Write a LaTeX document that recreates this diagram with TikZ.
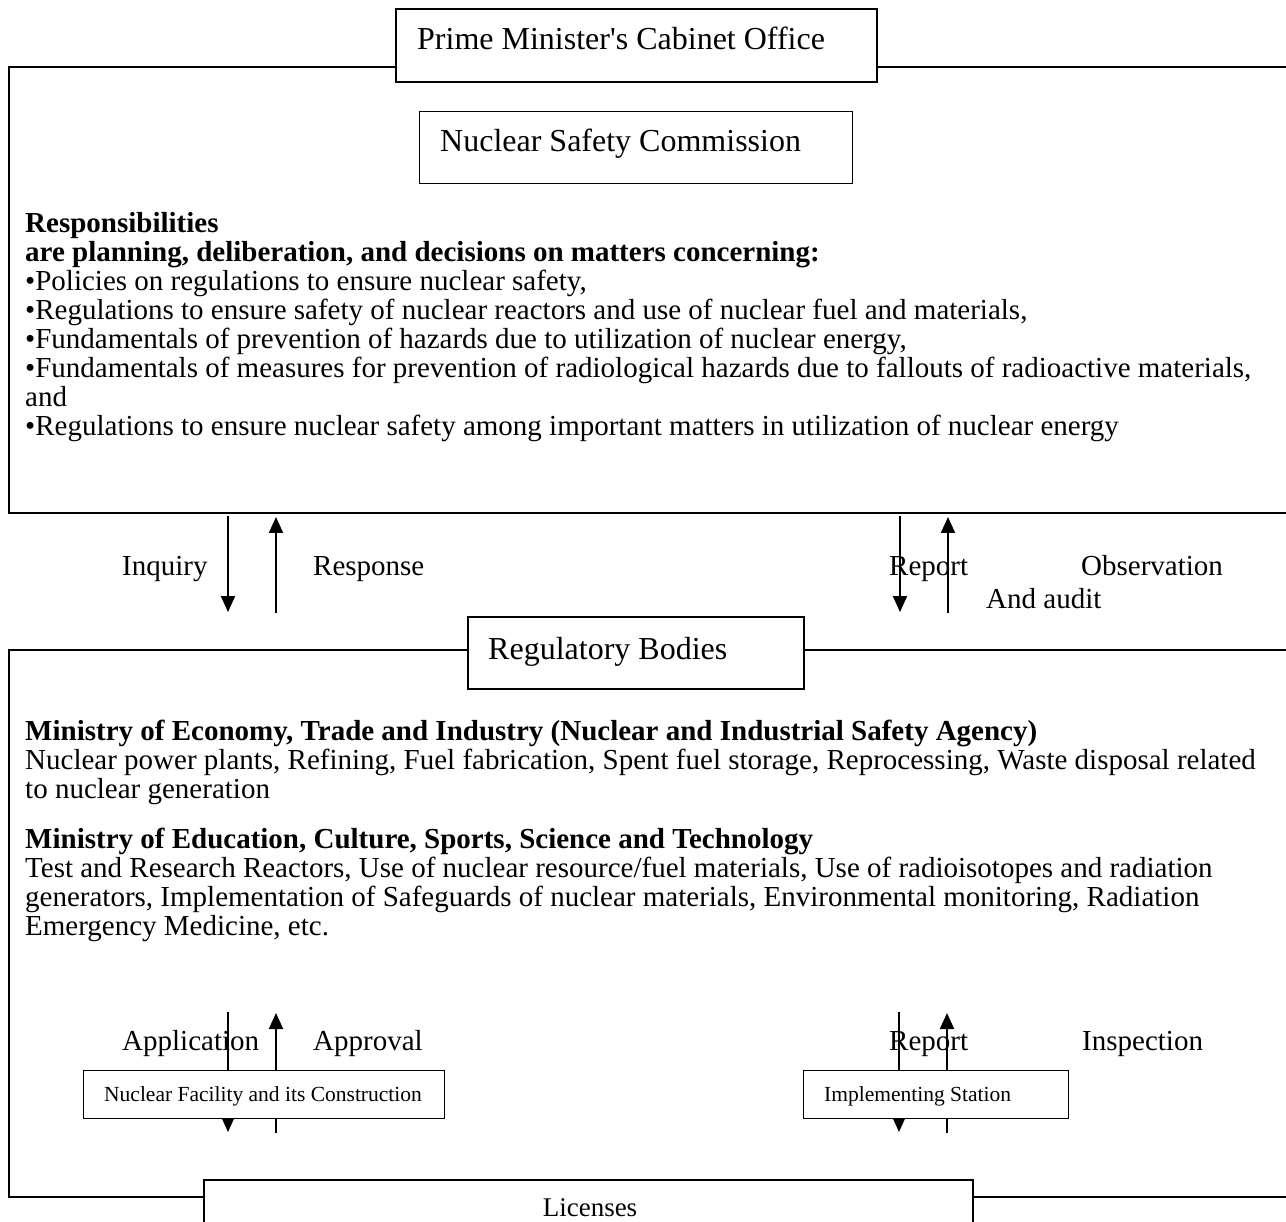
\documentclass[tikz,border=0pt]{standalone}
\usepackage{fontspec}
\setmainfont{Liberation Serif}[Ligatures=TeXOff]
\usetikzlibrary{arrows.meta}
\begin{document}
\begin{tikzpicture}[x=1pt,y=-1pt,
  frame/.style={line width=2.2pt},
  boxw/.style={draw, line width=1.6pt, fill=white, inner sep=0pt, anchor=north west},
  body/.style={font=\fontsize{29}{29}\selectfont, inner sep=0pt, anchor=base west},
  bodyb/.style={font=\fontsize{29}{29}\selectfont\bfseries, inner sep=0pt, anchor=base west},
  head/.style={font=\fontsize{32}{34}\selectfont, inner sep=0pt, anchor=base west},
  small/.style={font=\fontsize{21.5}{24}\selectfont, inner sep=0pt, anchor=base west},
  arr/.style={line width=2pt, -{Triangle[width=14pt,length=16pt]}}]
\useasboundingbox (0,0) rectangle (1286,1222);
\clip (0,0) rectangle (1286,1222);

% ---------- upper frame ----------
\coordinate (f1tl) at (9,67);
\coordinate (f1bl) at (9,513);
\coordinate (f1br) at (1300,513);
\coordinate (f1tr) at (1300,67);
\node[boxw, minimum width=481pt, minimum height=73pt] (pm) at (395,8) {};
\draw[frame] (pm.west |- f1tl) -- (f1tl) -- (f1bl) -- (f1br);
\draw[frame] (pm.east |- f1tr) -- (f1tr);
\node[head] (pmt) at (417,50) {Prime Minister's Cabinet Office};

\node[boxw, line width=1.4pt, minimum width=433pt, minimum height=72pt] (nsc) at (419,111) {};
\node[head] (nsct) at (440,152) {Nuclear Safety Commission};

\node[bodyb] (r1) at (25,233) {Responsibilities};
\node[bodyb] (r2) at (25,262) {are planning, deliberation, and decisions on matters concerning:};
\node[body] (r3) at (25,291) {•Policies on regulations to ensure nuclear safety,};
\node[body] (r4) at (25,320) {•Regulations to ensure safety of nuclear reactors and use of nuclear fuel and materials,};
\node[body] (r5) at (25,349) {•Fundamentals of prevention of hazards due to utilization of nuclear energy,};
\node[body] (r6) at (25,378) {•Fundamentals of measures for prevention of radiological hazards due to fallouts of radioactive materials,};
\node[body] (r7) at (25,407) {and};
\node[body] (r8) at (25,436) {•Regulations to ensure nuclear safety among important matters in utilization of nuclear energy};

% ---------- arrows between frames ----------
\coordinate (a1s) at (228,516); \coordinate (a1e) at (228,612);
\coordinate (a2s) at (276,613); \coordinate (a2e) at (276,517);
\coordinate (a3s) at (900,516); \coordinate (a3e) at (900,612);
\coordinate (a4s) at (948,613); \coordinate (a4e) at (948,517);
\draw[arr] (a1s) -- (a1e);
\draw[arr] (a2s) -- (a2e);
\draw[arr] (a3s) -- (a3e);
\draw[arr] (a4s) -- (a4e);
\node[body] (inq) at (122,575) {Inquiry};
\node[body] (resp) at (313,575) {Response};
\node[body] (rep1) at (889,575) {Report};
\node[body] (obs) at (1081,575) {Observation};
\node[body] (aud) at (986,608) {And audit};

% ---------- lower frame ----------
\coordinate (f2tl) at (9,650);
\coordinate (f2bl) at (9,1197);
\coordinate (f2br) at (1300,1197);
\coordinate (f2tr) at (1300,650);
\node[boxw, minimum width=336pt, minimum height=72pt] (reg) at (467,616) {};
\node[boxw, minimum width=769pt, minimum height=80pt] (lic) at (203,1179) {};
\draw[frame] (reg.west |- f2tl) -- (f2tl) -- (f2bl) -- (lic.west |- f2bl);
\draw[frame] (lic.east |- f2br) -- (f2br);
\draw[frame] (reg.east |- f2tr) -- (f2tr);
\node[head] (regt) at (488,659) {Regulatory Bodies};
\node[font=\fontsize{27}{29}\selectfont, inner sep=0pt, anchor=base] (lict) at (590,1216) {Licenses};

\node[bodyb] (m1) at (25,740) {Ministry of Economy, Trade and Industry (Nuclear and Industrial Safety Agency)};
\node[body] (m2) at (25,769) {Nuclear power plants, Refining, Fuel fabrication, Spent fuel storage, Reprocessing, Waste disposal related};
\node[body] (m3) at (25,798) {to nuclear generation};
\node[bodyb] (m4) at (25,848) {Ministry of Education, Culture, Sports, Science and Technology};
\node[body] (m5) at (25,877) {Test and Research Reactors, Use of nuclear resource/fuel materials, Use of radioisotopes and radiation};
\node[body] (m6) at (25,906) {generators, Implementation of Safeguards of nuclear materials, Environmental monitoring, Radiation};
\node[body] (m7) at (25,935) {Emergency Medicine, etc.};

% ---------- lower arrows ----------
\coordinate (b1s) at (228,1012); \coordinate (b1e) at (228,1132);
\coordinate (b2s) at (276,1133); \coordinate (b2e) at (276,1013);
\coordinate (b3s) at (899,1012); \coordinate (b3e) at (899,1132);
\coordinate (b4s) at (947,1133); \coordinate (b4e) at (947,1013);
\node[body] (app) at (122,1050) {Application};
\node[body] (apr) at (313,1050) {Approval};
\node[body] (rep2) at (889,1050) {Report};
\node[body] (ins) at (1082,1050) {Inspection};
\draw[arr] (b1s) -- (b1e);
\draw[arr] (b2s) -- (b2e);
\draw[arr] (b3s) -- (b3e);
\draw[arr] (b4s) -- (b4e);
\node[boxw, line width=1.4pt, minimum width=361pt, minimum height=48pt] (nf) at (83,1070) {};
\node[small] (nft) at (104,1101) {Nuclear Facility and its Construction};
\node[boxw, line width=1.4pt, minimum width=265pt, minimum height=48pt] (is) at (803,1070) {};
\node[small] (ist) at (824,1101) {Implementing Station};
\end{tikzpicture}
\end{document}
